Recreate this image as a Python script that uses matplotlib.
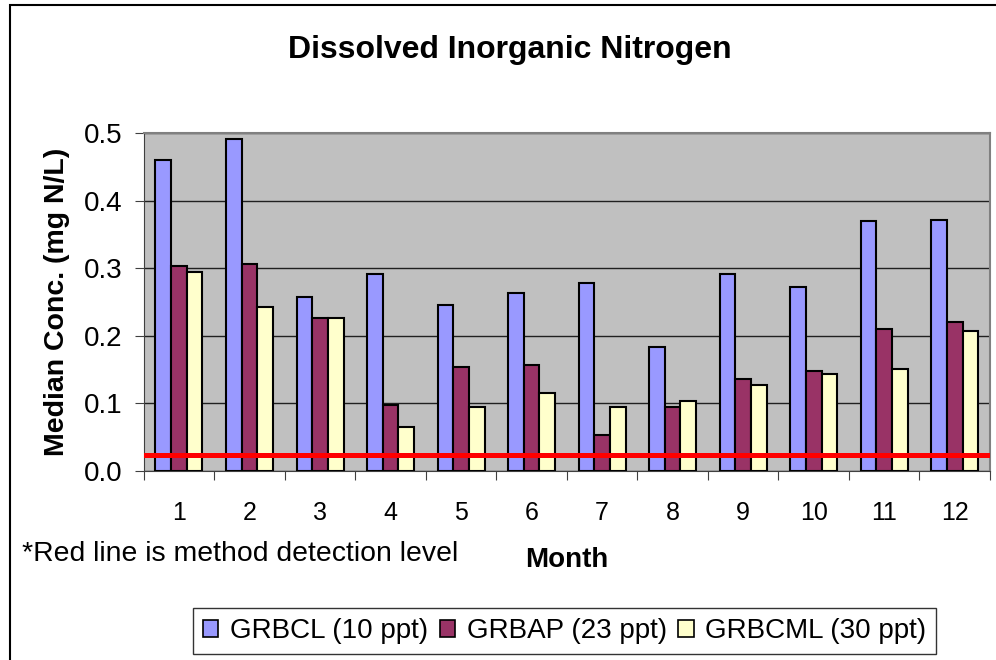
import matplotlib.pyplot as plt
import matplotlib.patches as mpatches
import numpy as np

plt.rcParams['font.family'] = ['Liberation Sans', 'DejaVu Sans']

# Data
months = ['1', '2', '3', '4', '5', '6', '7', '8', '9', '10', '11', '12']
grbcl = [0.461, 0.491, 0.257, 0.292, 0.245, 0.263, 0.278, 0.183, 0.292, 0.272, 0.370, 0.372]
grbap = [0.304, 0.307, 0.227, 0.097, 0.153, 0.156, 0.053, 0.095, 0.136, 0.148, 0.210, 0.221]
grbcml = [0.295, 0.242, 0.227, 0.065, 0.095, 0.115, 0.095, 0.103, 0.127, 0.144, 0.150, 0.207]
series_names = ['GRBCL (10 ppt)', 'GRBAP (23 ppt)', 'GRBCML (30 ppt)']
detection_level = 0.024

colors = ['#9999FF', '#993366', '#FFFFCC']

fig = plt.figure(figsize=(9.96, 6.6), dpi=100)
ax = fig.add_axes([0.1443, 0.2868, 0.8497, 0.5112])
ax.set_facecolor('#C0C0C0')

x = np.arange(len(months))
w = 1 / 4.5
for k, vals in enumerate([grbcl, grbap, grbcml]):
    ax.bar(x + (k - 1) * w, vals, w, color=colors[k], edgecolor='black',
           linewidth=1.5, label=series_names[k], zorder=3)

# Detection level line
ax.axhline(detection_level, color='#FF0000', linewidth=3.6, zorder=4)

ax.set_xlim(-0.5, len(months) - 0.5)
ax.set_ylim(0, 0.5)
yt = np.arange(0, 0.51, 0.1)
ax.set_yticks(yt)
ax.set_yticklabels(['%.1f' % v for v in yt], fontsize=20)
ax.yaxis.grid(True, color='#202020', linewidth=1, zorder=1)
ax.set_axisbelow(True)

# Category ticks between groups, labels at centres
ax.set_xticks(np.arange(-0.5, len(months), 1))
ax.set_xticklabels([])
ax.set_xticks(x, minor=True)
ax.set_xticklabels(months, minor=True, fontsize=18)
ax.tick_params(axis='x', which='major', length=6.5, direction='out', color='#404040')
ax.tick_params(axis='x', which='minor', length=0, pad=22)
ax.tick_params(axis='y', length=6.3, direction='out', color='#404040', pad=9)

for side in ['top', 'right']:
    ax.spines[side].set_color('#808080')
    ax.spines[side].set_linewidth(1.5)
for side in ['left', 'bottom']:
    ax.spines[side].set_color('#404040')

ax.set_ylabel('Median Conc. (mg N/L)', fontsize=20.5, fontweight='bold', va='center')
ax.yaxis.set_label_coords(-0.103, 0.5)

fig.text(0.512, 0.924, 'Dissolved Inorganic Nitrogen', fontsize=23, fontweight='bold',
         ha='center', va='center')
fig.text(0.569, 0.151, 'Month', fontsize=20, fontweight='bold', ha='center', va='center')
fig.text(0.022, 0.161, '*Red line is method detection level', fontsize=20.4,
         ha='left', va='center')

handles = [mpatches.Patch(facecolor=c, edgecolor='black', linewidth=1.2) for c in colors]
leg = fig.legend(handles, series_names, loc='center', bbox_to_anchor=(0.567, 0.044),
                 ncol=3, fontsize=20, frameon=True, fancybox=False, edgecolor='black',
                 handlelength=0.55, handleheight=0.55, handletextpad=0.42,
                 columnspacing=0.42, borderpad=0.35, borderaxespad=0)
leg.get_frame().set_linewidth(1)

# Outer chart border (left and top edges visible)
fig.patches.append(mpatches.Rectangle((10 / 996, -0.05), 1.0, 1 - 5 / 660 + 0.05,
                                      transform=fig.transFigure, fill=False,
                                      edgecolor='black', linewidth=1.5))

fig.savefig('out.png', dpi=100)
